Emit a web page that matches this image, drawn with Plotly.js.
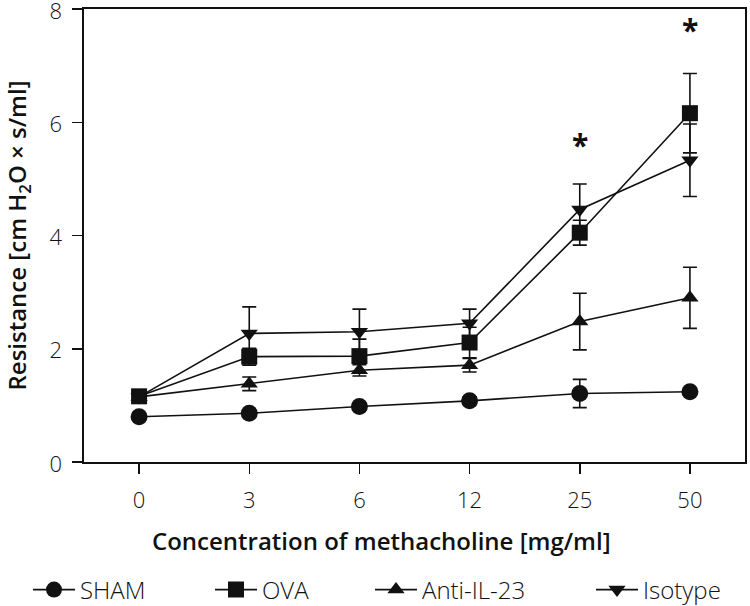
<!DOCTYPE html>
<html>
<head>
<meta charset="utf-8">
<script src="https://cdn.plot.ly/plotly-3.0.1.min.js"></script>
<style>html,body{margin:0;padding:0;background:#fff}#chart{width:750px;height:606px}</style>
</head>
<body>
<div id="chart"></div>
<script>
const categories = ['0', '3', '6', '12', '25', '50'];
const xTitle = 'Concentration of methacholine [mg/ml]';
const yTitle = 'Resistance [cm H<sub>2</sub>O × s/ml]';
const yTickVals = [0, 2, 4, 6, 8];
const yTickText = ['0', '2', '4', '6', '8'];

const seriesNames = ['SHAM', 'OVA', 'Anti-IL-23', 'Isotype'];
const shamY   = [0.80, 0.86, 0.98, 1.08, 1.21, 1.24];
const shamErr = [0.04, 0.05, 0.06, 0.07, 0.25, 0.06];
const ovaY    = [1.16, 1.86, 1.87, 2.11, 4.05, 6.16];
const ovaErr  = [0.06, 0.15, 0.30, 0.27, 0.22, 0.70];
const antiY   = [1.15, 1.38, 1.62, 1.71, 2.48, 2.90];
const antiErr = [0.04, 0.12, 0.10, 0.12, 0.50, 0.54];
const isoY    = [1.15, 2.27, 2.30, 2.45, 4.46, 5.33];
const isoErr  = [0.04, 0.47, 0.40, 0.25, 0.45, 0.64];

const sigCats = ['25', '50'];
const sigY = [5.60, 7.64];
const sigText = ['*', '*'];

const ink = '#111111';
const fontFam = '"Open Sans", "Noto Sans", sans-serif';

const legendIds = ['legend', 'legend2', 'legend3', 'legend4'];
const legendX = [28, 210, 370, 591];

function mk(i, y, err, symbol, size) {
  return {
    type: 'scatter', mode: 'lines+markers', name: seriesNames[i],
    legend: legendIds[i],
    x: categories, y: y,
    line: {color: ink, width: 1.6},
    marker: {color: ink, symbol: symbol, size: size},
    error_y: {type: 'data', array: err, visible: true, color: ink, thickness: 1.6, width: 7},
    cliponaxis: false
  };
}

const data = [
  mk(0, shamY, shamErr, 'circle', 17),
  mk(1, ovaY, ovaErr, 'square', 16),
  mk(2, antiY, antiErr, 'triangle-up', 15),
  mk(3, isoY, isoErr, 'triangle-down', 15)
];

const annotations = sigCats.map((c, i) => ({
  x: categories.indexOf(c), y: sigY[i], xref: 'x', yref: 'y', text: sigText[i], showarrow: false,
  font: {family: fontFam, size: 30, color: ink, weight: 700}, yanchor: 'middle'
}));
annotations.push({
  text: xTitle, xref: 'paper', yref: 'paper', x: (150 - 84) / 661, y: -(540 - 462) / 453,
  xanchor: 'left', yanchor: 'middle', showarrow: false,
  font: {family: fontFam, size: 24, color: ink, weight: 600}
});

const layout = {
  width: 750, height: 606,
  margin: {l: 84, r: 5, t: 9, b: 144},
  paper_bgcolor: '#fff', plot_bgcolor: '#fff',
  font: {family: fontFam, color: ink},
  showlegend: true,
  xaxis: {
    type: 'category', range: [-0.5, 5.5],
    showline: true, mirror: true, linecolor: ink, linewidth: 1.6,
    ticks: 'outside', ticklen: 10, tickwidth: 1.5, tickcolor: ink,
    ticklabelstandoff: 8, ticklabeloverflow: 'allow',
    showgrid: false, zeroline: false, fixedrange: true,
    tickfont: {family: fontFam, size: 22, color: ink, weight: 300}
  },
  yaxis: {
    range: [0, 8], tickmode: 'array', tickvals: yTickVals, ticktext: yTickText,
    showline: true, mirror: true, linecolor: ink, linewidth: 1.6,
    ticks: 'outside', ticklen: 10, tickwidth: 1.5, tickcolor: ink,
    ticklabelstandoff: 6, ticklabelshift: 2, ticklabeloverflow: 'allow',
    showgrid: false, zeroline: false, fixedrange: true,
    tickfont: {family: fontFam, size: 22, color: ink, weight: 300},
    title: {text: yTitle, font: {family: fontFam, size: 24, color: ink, weight: 600}, standoff: 22}
  },
  annotations: annotations
};

legendIds.forEach((id, i) => {
  layout[id] = {
    orientation: 'h', xref: 'container', yref: 'container',
    x: legendX[i] / 750, y: 1 - 590 / 606, xanchor: 'left', yanchor: 'middle',
    font: {family: fontFam, size: 24, color: ink, weight: 300},
    itemwidth: 42, bgcolor: 'rgba(0,0,0,0)'
  };
});

Plotly.newPlot('chart', data, layout, {displayModeBar: false, staticPlot: true});
</script>
</body>
</html>
